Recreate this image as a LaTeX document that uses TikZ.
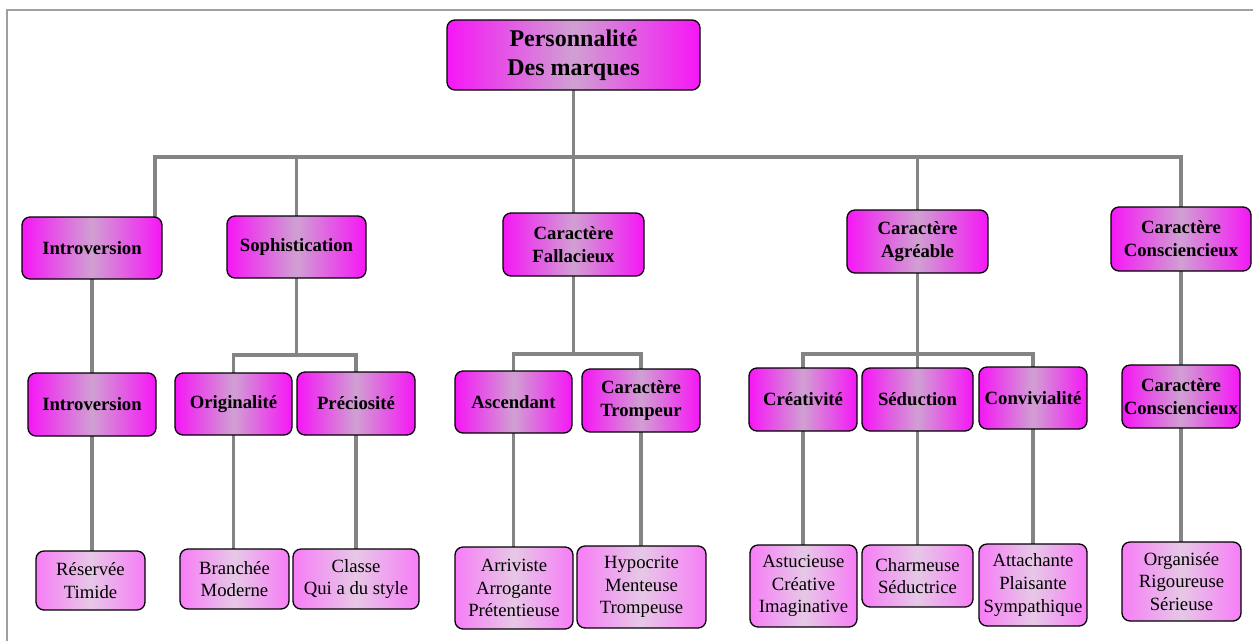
\documentclass[tikz,border=0pt]{standalone}
\usepackage{fontspec}
\setmainfont{Liberation Serif}
\usetikzlibrary{backgrounds}

\definecolor{boxedge}{RGB}{246,22,246}
\definecolor{boxmid}{RGB}{208,160,210}
\definecolor{leafedge}{RGB}{247,125,247}
\definecolor{leafmid}{RGB}{230,200,230}
\definecolor{linkgray}{RGB}{132,132,132}
\definecolor{framegray}{RGB}{160,160,160}

\tikzset{
  card/.style={draw=black, line width=1.3pt, rounded corners=8pt, inner sep=0pt,
    align=center, text=black},
  trait/.style={card, left color=boxedge, right color=boxedge, middle color=boxmid,
    font=\fontsize{18.7}{23}\selectfont\bfseries},
  rootbox/.style={trait, font=\fontsize{24}{29}\selectfont\bfseries},
  leaf/.style={card, left color=leafedge, right color=leafedge, middle color=leafmid,
    font=\fontsize{18.7}{22.6}\selectfont},
  sz/.style 2 args={minimum width=#1pt, minimum height=#2pt},
  link/.style={draw=linkgray, line width=3.8pt, line cap=rect, line join=miter},
  frameline/.style={draw=framegray, line width=1.5pt}
}

\begin{document}
\begin{tikzpicture}[x=1pt, y=-1pt]
\useasboundingbox (0,0) rectangle (1253,641);

% root
\node[rootbox, sz={253}{70}] (root) at (573.5,55) {Personnalité\\Des marques};

% first level
\node[trait, sz={140}{62}] (intro) at (92,248) {Introversion};
\node[trait, sz={139}{62}] (soph) at (296.5,247) {Sophistication};
\node[trait, sz={141}{63}] (fall) at (573.5,244.5) {Caractère\\Fallacieux};
\node[trait, sz={141}{63}] (agr) at (917.5,241.5) {Caractère\\Agréable};
\node[trait, sz={140}{64}] (consc) at (1181,239) {Caractère\\Consciencieux};

% second level
\node[trait, sz={128}{63}] (intro2) at (92,404.5) {Introversion};
\node[trait, sz={117}{62}] (orig) at (233.5,404) {Originalité};
\node[trait, sz={118}{63}] (prec) at (356,403.5) {Préciosité};
\node[trait, sz={117}{62}] (asc) at (513.5,402) {Ascendant};
\node[trait, sz={118}{63}] (tromp) at (641,400.5) {Caractère\\Trompeur};
\node[trait, sz={108}{63}] (crea) at (803,399.5) {Créativité};
\node[trait, sz={111}{63}] (sed) at (917.5,399.5) {Séduction};
\node[trait, sz={108}{62}] (conv) at (1033,398) {Convivialité};
\node[trait, sz={118}{63}] (consc2) at (1181,396.5) {Caractère\\Consciencieux};

% adjectives
\node[leaf, sz={109}{59}] (resv) at (90.5,580.5) {Réservée\\Timide};
\node[leaf, sz={109}{60}] (bran) at (234.5,579) {Branchée\\Moderne};
\node[leaf, sz={126}{60}] (class) at (356,579) {Classe\\Qui a du style};
\node[leaf, sz={118}{82}] (arr) at (514,588) {Arriviste\\Arrogante\\Prétentieuse};
\node[leaf, sz={129}{82}] (hyp) at (641.5,587) {Hypocrite\\Menteuse\\Trompeuse};
\node[leaf, sz={107}{82}] (astu) at (803.5,586) {Astucieuse\\Créative\\Imaginative};
\node[leaf, sz={111}{62}] (charm) at (917.5,576) {Charmeuse\\Séductrice};
\node[leaf, sz={108}{82}] (att) at (1033,585) {Attachante\\Plaisante\\Sympathique};
\node[leaf, sz={119}{79}] (org) at (1181.5,581.5) {Organisée\\Rigoureuse\\Sérieuse};

% bus heights
\coordinate (busL) at (155,157);
\coordinate (ysoph) at (0,355);
\coordinate (yfall) at (0,354);
\coordinate (yagr) at (0,354);

\begin{pgfonlayer}{background}
  % frame
  \draw[frameline] (7,641) -- (7,10) -- (1253,10);

  % main bus
  \draw[link] (root.south) -- (fall.north);
  \draw[link] (busL) -- (busL -| consc.north);
  \draw[link] (busL) -- (busL |- intro.north);
  \draw[link] (soph.north |- busL) -- (soph.north);
  \draw[link] (agr.north |- busL) -- (agr.north);
  \draw[link] (consc.north |- busL) -- (consc.north);

  % introversion
  \draw[link] (intro.south) -- (intro2.north);

  % sophistication
  \draw[link] (soph.south) -- (soph.south |- ysoph);
  \draw[link] (orig.north |- ysoph) -- (prec.north |- ysoph);
  \draw[link] (orig.north |- ysoph) -- (orig.north);
  \draw[link] (prec.north |- ysoph) -- (prec.north);

  % fallacieux
  \draw[link] (fall.south) -- (fall.south |- yfall);
  \draw[link] (asc.north |- yfall) -- (tromp.north |- yfall);
  \draw[link] (asc.north |- yfall) -- (asc.north);
  \draw[link] (tromp.north |- yfall) -- (tromp.north);

  % agreable
  \draw[link] (agr.south) -- (sed.north);
  \draw[link] (crea.north |- yagr) -- (conv.north |- yagr);
  \draw[link] (crea.north |- yagr) -- (crea.north);
  \draw[link] (conv.north |- yagr) -- (conv.north);

  % consciencieux
  \draw[link] (consc.south) -- (consc2.north);

  % adjectives
  \draw[link] (intro2.south) -- (intro2.south |- resv.north);
  \draw[link] (orig.south) -- (orig.south |- bran.north);
  \draw[link] (prec.south) -- (prec.south |- class.north);
  \draw[link] (asc.south) -- (asc.south |- arr.north);
  \draw[link] (tromp.south) -- (tromp.south |- hyp.north);
  \draw[link] (crea.south) -- (crea.south |- astu.north);
  \draw[link] (sed.south) -- (sed.south |- charm.north);
  \draw[link] (conv.south) -- (conv.south |- att.north);
  \draw[link] (consc2.south) -- (consc2.south |- org.north);
\end{pgfonlayer}
\end{tikzpicture}
\end{document}
